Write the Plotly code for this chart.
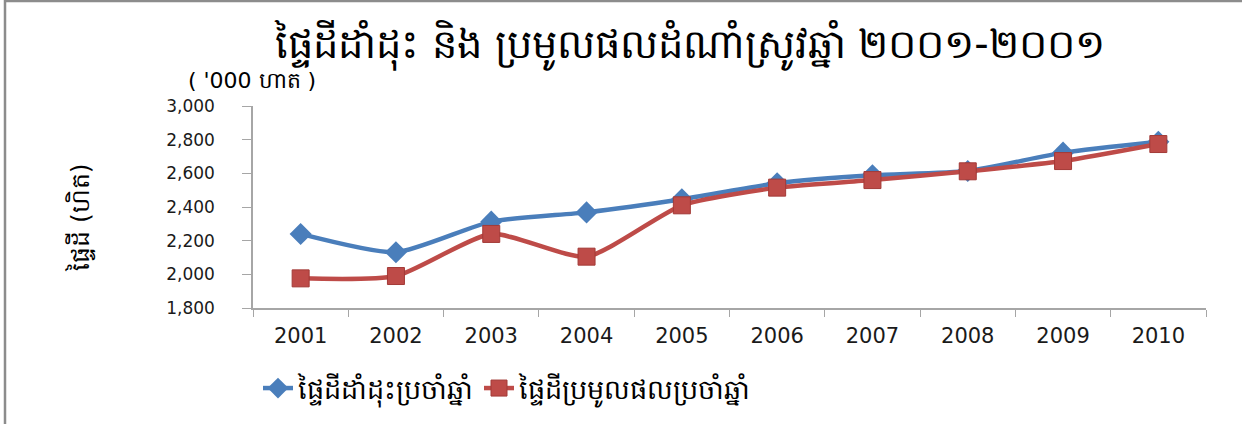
import plotly.graph_objects as go

years = ["2001", "2002", "2003", "2004", "2005", "2006", "2007", "2008", "2009", "2010"]
planted = [2240, 2131, 2313, 2368, 2446, 2541, 2588, 2614, 2723, 2788]
harvested = [1976, 1990, 2240, 2105, 2410, 2515, 2560, 2612, 2673, 2774]
y_ticks = [1800, 2000, 2200, 2400, 2600, 2800, 3000]
y_tick_text = ["1,800", "2,000", "2,200", "2,400", "2,600", "2,800", "3,000"]

title_text = "ផ្ទៃដីដាំដុះ និង ប្រមូលផលដំណាំស្រូវឆ្នាំ ២០០១-២០០១"
unit_text = "( '000 ហាត )"
ytitle_text = "ផ្ទៃដី (ហិត)"
name_planted = "ផ្ទៃដីដាំដុះប្រចាំឆ្នាំ"
name_harvested = "ផ្ទៃដីប្រមូលផលប្រចាំឆ្នាំ"

W, H = 1242, 424
L, R, T, B = 253, 36, 106, 116
pw, ph = W - L - R, H - T - B

def px(x):
    return (x - L) / pw

def py(y):
    return (H - B - y) / ph

blue = "#4a7ebb"
red = "#be4b48"

fig = go.Figure()
fig.add_trace(go.Scatter(
    x=years, y=planted, name=name_planted, mode="lines+markers",
    line=dict(color=blue, width=4.5, shape="spline", smoothing=0.6),
    marker=dict(symbol="diamond", size=17, color=blue),
))
fig.add_trace(go.Scatter(
    x=years, y=harvested, name=name_harvested, mode="lines+markers",
    line=dict(color=red, width=4.5, shape="spline", smoothing=0.6),
    marker=dict(symbol="square", size=17, color=red, line=dict(color="#a33a37", width=1)),
))

fig.update_layout(
    width=W, height=H,
    margin=dict(l=L, r=R, t=T, b=B, pad=0, autoexpand=False),
    paper_bgcolor="white", plot_bgcolor="white",
    font=dict(family="DejaVu Sans, Noto Sans", color="#000000"),
    showlegend=True,
    legend=dict(
        orientation="h", x=px(258), y=py(364), xanchor="left", yanchor="top",
        font=dict(size=27, color="#000000"), tracegroupgap=0,
        bgcolor="rgba(0,0,0,0)",
    ),
    title=dict(
        text=title_text, x=px(690), y=1 - 44 / H, xref="paper", yref="container",
        xanchor="center", yanchor="middle",
        font=dict(size=40, color="#000000"),
    ),
)

fig.update_xaxes(
    type="category", range=[-0.5, 9.5], autorange=False,
    showline=True, linecolor="#a6a6a6", linewidth=1.5,
    ticks="outside", ticklen=7, tickcolor="#a6a6a6", tickson="boundaries",
    showgrid=False, zeroline=False, mirror=False,
    tickfont=dict(size=21, family="DejaVu Sans", color="#1a1a1a"),
    ticklabelstandoff=8,
)
fig.update_yaxes(
    range=[1800, 3000], autorange=False, tickvals=y_ticks, ticktext=y_tick_text,
    showline=True, linecolor="#a6a6a6", linewidth=1.5,
    ticks="outside", ticklen=9, tickcolor="#a6a6a6",
    showgrid=False, zeroline=False,
    tickfont=dict(size=17, family="DejaVu Sans", color="#1a1a1a"),
    ticklabelstandoff=24,
)

fig.add_annotation(
    text=unit_text, xref="paper", yref="paper", x=px(252), y=py(80),
    xanchor="center", yanchor="middle", showarrow=False,
    font=dict(size=22, color="#000000"),
)
fig.add_annotation(
    text=ytitle_text, xref="paper", yref="paper", x=px(80), y=py(218),
    xanchor="center", yanchor="middle", showarrow=False, textangle=-90,
    font=dict(size=25, color="#000000"),
)

# chart frame (left and top edges visible in the reference)
fig.add_shape(type="line", xref="paper", yref="paper",
              x0=px(5), x1=px(5), y0=py(0), y1=py(H),
              line=dict(color="#8c8c8c", width=2.5))
fig.add_shape(type="line", xref="paper", yref="paper",
              x0=px(5), x1=px(W), y0=py(1), y1=py(1),
              line=dict(color="#8c8c8c", width=2.5))

fig.write_html(
    "out.html",
    config={"displayModeBar": False},
    post_script="document.body.style.margin='0';document.body.style.overflow='hidden';",
)
